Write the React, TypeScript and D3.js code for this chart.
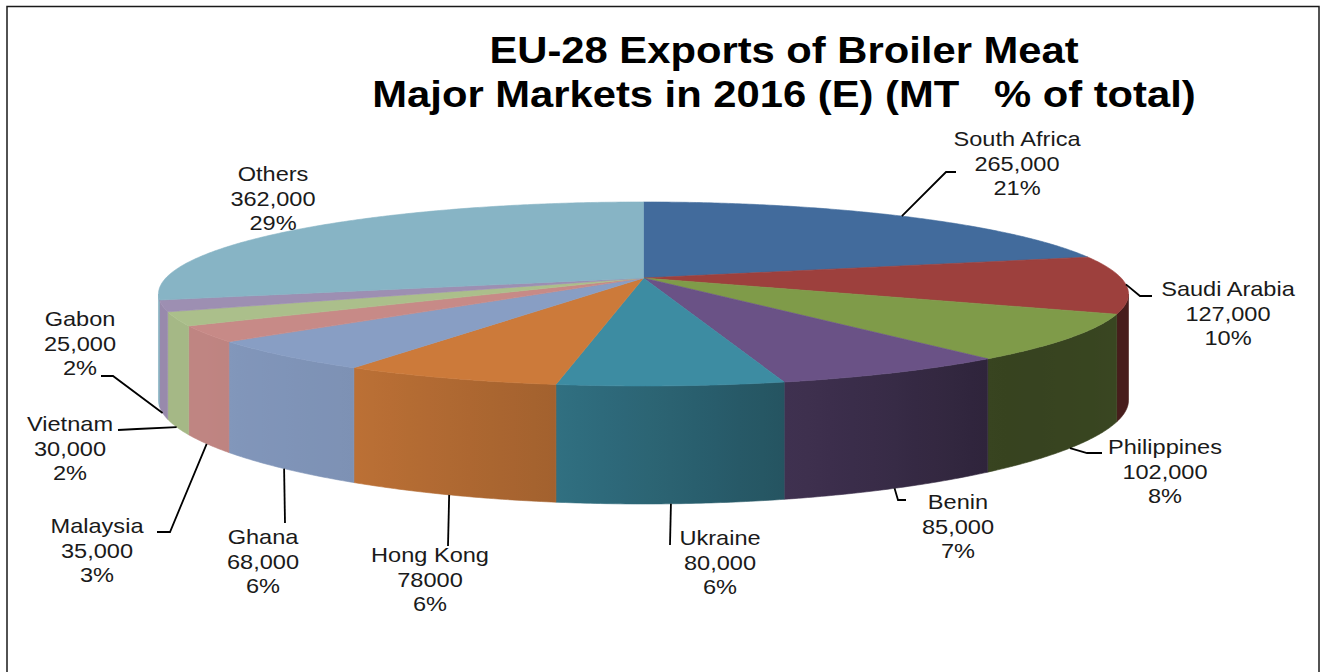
import React from "react";
import * as d3 from "d3";

// ---------- data ----------
const categories = [
  "South Africa", "Saudi Arabia", "Philippines", "Benin", "Ukraine",
  "Hong Kong", "Ghana", "Malaysia", "Vietnam", "Gabon", "Others",
];
const values = [265000, 127000, 102000, 85000, 80000, 78000, 68000, 35000, 30000, 25000, 362000];
const valueLabels = ["265,000", "127,000", "102,000", "85,000", "80,000", "78000", "68,000", "35,000", "30,000", "25,000", "362,000"];
const percentLabels = ["21%", "10%", "8%", "7%", "6%", "6%", "6%", "3%", "2%", "2%", "29%"];
const colors = ["#426B9C", "#9D403D", "#7F9B49", "#6A5286", "#3D8CA2", "#CC7A3A", "#889EC4", "#C78A87", "#ABBF8B", "#9D8FB2", "#87B4C5"];
const titleLines = ["EU-28 Exports of Broiler Meat", "Major Markets in 2016 (E) (MT   % of total)"];

// ---------- layout ----------
const W = 1320, H = 672;
const CX = 643.5, CY = 278, FOCAL = 2703, DIST = 5.659;
const SIN_A = 0.1868, COS_A = Math.sqrt(1 - SIN_A * SIN_A);
const VIS_LO = (100 * Math.PI) / 180, VIS_HI = (260 * Math.PI) / 180;

const labelLayout: { x: number; y: number; leader: [number, number][] }[] = [
  { x: 1017, y: 146, leader: [[946, 172], [956, 172]] },
  { x: 1228, y: 296, leader: [[1140, 296], [1152, 296]] },
  { x: 1165, y: 454, leader: [[1087, 453], [1102, 453]] },
  { x: 958, y: 509, leader: [[898, 500], [906, 500]] },
  { x: 720, y: 545, leader: [[670, 545]] },
  { x: 430, y: 562, leader: [[448, 546]] },
  { x: 263, y: 544, leader: [[285, 523]] },
  { x: 97, y: 533, leader: [[170, 532], [157, 532]] },
  { x: 70, y: 431, leader: [[137, 429], [118, 430]] },
  { x: 80, y: 326, leader: [[113, 376], [101, 376]] },
  { x: 273, y: 181, leader: [] },
];

const FONT = "'Liberation Sans', Arial, sans-serif";
const LABEL_FS = 20.5, LABEL_SX = 1.15, LINE_H = 24.5;
const TITLE_FS = 36, TITLE_SX = 1.16;

// wall brightness by angle (degrees clockwise from back)
const shadeScale = d3
  .scaleLinear<number>()
  .domain([100, 140, 166, 189, 211, 235, 260])
  .range([0.46, 0.43, 0.6, 0.8, 0.92, 0.96, 0.97])
  .clamp(true);

function proj(phi: number): [number, number, number] {
  const X = Math.sin(phi), Z = -Math.cos(phi);
  const depth = DIST - Z * COS_A;
  return [CX + (FOCAL * X) / depth, CY + (FOCAL * Z * SIN_A) / depth, Z];
}
function thick(Z: number) {
  return 106 + 12 * Math.max(0, Z) ** 2;
}
function shade(phi: number) {
  return shadeScale((phi * 180) / Math.PI);
}
function scaleColor(c: string, s: number) {
  const r = d3.rgb(c);
  return d3.rgb(r.r * s, r.g * s, r.b * s).formatHex();
}
function samples(a0: number, a1: number, step = Math.PI / 360) {
  const n = Math.max(2, Math.ceil((a1 - a0) / step) + 1);
  return d3.range(n).map((i) => a0 + ((a1 - a0) * i) / (n - 1));
}

export default function App() {
  const pie = d3.pie<number>().sort(null).startAngle(0).endAngle(2 * Math.PI);
  const arcs = pie(values);
  const line = d3.line<[number, number]>();

  const walls: React.ReactNode[] = [];
  const defs: React.ReactNode[] = [];
  const tops: React.ReactNode[] = [];
  const labels: React.ReactNode[] = [];

  arcs.forEach((a, i) => {
    // wall
    const lo = Math.max(a.startAngle, VIS_LO), hi = Math.min(a.endAngle, VIS_HI);
    if (hi > lo) {
      const ph = samples(lo, hi);
      const topPts = ph.map((p) => proj(p));
      const botPts = topPts.map(([x, y, z]) => [x, y + thick(z)] as [number, number]);
      const pts: [number, number][] = [
        ...topPts.map(([x, y]) => [x, y] as [number, number]),
        ...botPts.reverse(),
      ];
      const x0 = topPts[0][0], x1 = topPts[topPts.length - 1][0];
      const gid = `wall${i}`;
      const stops = d3.range(0, 11).map((k) => {
        const p = lo + ((hi - lo) * k) / 10;
        const xp = proj(p)[0];
        const off = x1 === x0 ? 0 : (xp - x0) / (x1 - x0);
        return <stop key={k} offset={off} stopColor={scaleColor(colors[i], shade(p))} />;
      });
      defs.push(
        <linearGradient key={gid} id={gid} gradientUnits="userSpaceOnUse" x1={x0} y1={0} x2={x1} y2={0}>
          {stops}
        </linearGradient>
      );
      walls.push(
        <path key={`w${i}`} d={line(pts) + "Z"} fill={`url(#${gid})`} stroke={`url(#${gid})`} strokeWidth={0.6} />
      );
    }
    // top
    const tp: [number, number][] = [[CX, CY], ...samples(a.startAngle, a.endAngle).map((p) => {
      const [x, y] = proj(p);
      return [x, y] as [number, number];
    })];
    tops.push(<path key={`t${i}`} d={line(tp) + "Z"} fill={colors[i]} stroke={colors[i]} strokeWidth={0.6} />);

    // label + leader
    const mid = (a.startAngle + a.endAngle) / 2;
    const [mx, my, mz] = proj(mid);
    const inWall = mid > VIS_LO && mid < VIS_HI;
    const anchor: [number, number] = [mx, inWall ? my + thick(mz) : my];
    const L = labelLayout[i];
    if (L.leader.length) {
      labels.push(
        <path key={`l${i}`} d={line([anchor, ...L.leader]) as string} fill="none" stroke="#000" strokeWidth={1.8} />
      );
    }
    [categories[i], valueLabels[i], percentLabels[i]].forEach((t, j) => {
      labels.push(
        <text
          key={`tx${i}-${j}`}
          transform={`translate(${L.x},${L.y + j * LINE_H}) scale(${LABEL_SX},1)`}
          textAnchor="middle"
          fontFamily={FONT}
          fontSize={LABEL_FS}
          fill="#1a1a1a"
          style={{ whiteSpace: "pre" }}
        >
          {t}
        </text>
      );
    });
  });

  return (
    <svg
      width={W}
      height={H}
      viewBox={`0 0 ${W} ${H}`}
      style={{ position: "absolute", left: 0, top: 0, background: "#fff" }}
    >
      <defs>{defs}</defs>
      <rect x={0} y={0} width={W} height={H} fill="#fff" />
      <rect x={7} y={6.5} width={1312} height={720} fill="none" stroke="#1a1a1a" strokeWidth={1.5} />
      {titleLines.map((t, j) => (
        <text
          key={`title${j}`}
          transform={`translate(784,${63 + j * 44}) scale(${TITLE_SX},1)`}
          textAnchor="middle"
          fontFamily={FONT}
          fontWeight="bold"
          fontSize={TITLE_FS}
          fill="#000"
          style={{ whiteSpace: "pre" }}
        >
          {t}
        </text>
      ))}
      <g>{walls}</g>
      <g>{tops}</g>
      <g>{labels}</g>
    </svg>
  );
}
